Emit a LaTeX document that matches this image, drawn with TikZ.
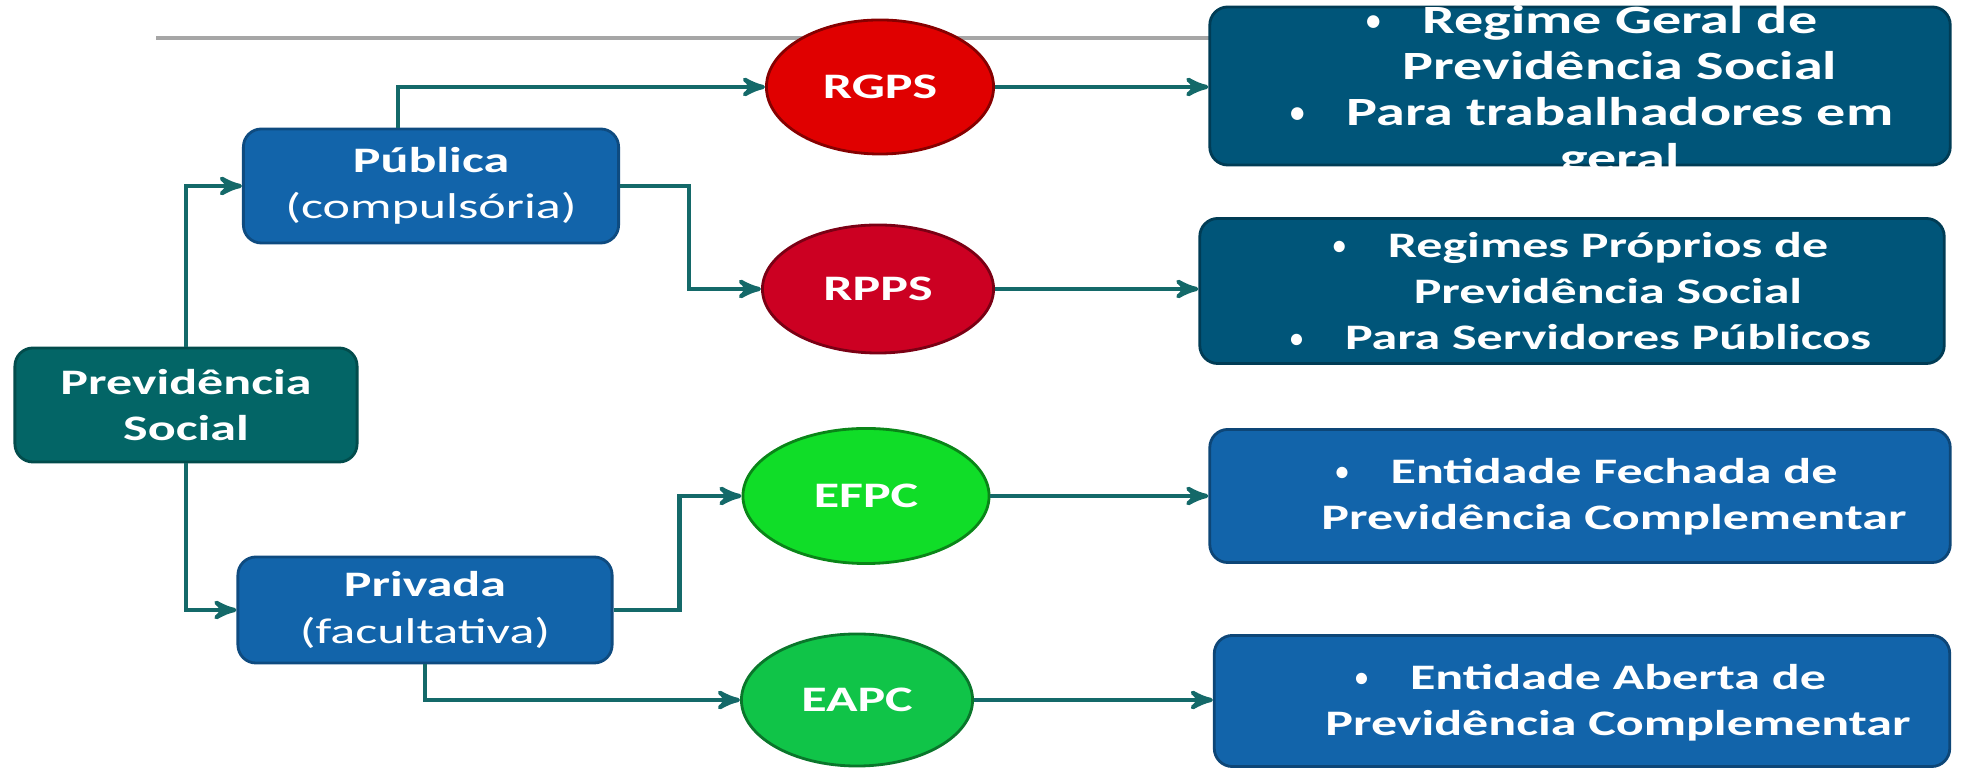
\documentclass[tikz,border=0pt]{standalone}
\usepackage{fontspec}
\setmainfont{Carlito}[FakeStretch=1.45]
\usepackage{xcolor}
\usetikzlibrary{arrows,positioning,shapes.geometric}

\definecolor{tealbox}{RGB}{3,101,102}
\definecolor{bluebox}{RGB}{18,100,170}
\definecolor{navybox}{RGB}{0,85,121}
\definecolor{linkteal}{RGB}{20,105,105}
\definecolor{rgpsred}{RGB}{224,0,0}
\definecolor{rppsred}{RGB}{204,0,34}
\definecolor{efpcgreen}{RGB}{16,221,40}
\definecolor{eapcgreen}{RGB}{16,196,72}

\newcommand{\itembul}{\llap{\raisebox{0.15ex}{\scalebox{0.5}[0.75]{\textbullet}}\hspace{0.42cm}}}

\begin{document}
\begin{tikzpicture}[x=0.01cm,y=-0.01cm,>=stealth',
      link/.style={->,draw=linkteal,line width=1.2pt},
      box/.style={rectangle,rounded corners=0.18cm,text=white,align=center,
                  line width=0.8pt,font=\fontsize{10.2}{13.2}\selectfont},
      oval/.style={ellipse,inner sep=0pt,text=white,line width=0.8pt,
                   font=\bfseries\fontsize{10.2}{13.2}\selectfont},
      info/.style={text=white,align=center,
                   font=\bfseries\fontsize{10.2}{13.2}\selectfont}]
    \useasboundingbox (0,0) rectangle (1961,768);
    \draw[gray!70,line width=0.9pt] (156,38) -- (1210,38);

    % left column
    \node[box,fill=tealbox,draw=tealbox!75!black,minimum width=3.42cm,minimum height=1.14cm,
          font=\bfseries\fontsize{10.2}{13.2}\selectfont]
          (prev) at (186,405) {Previdência\\Social};
    \node[box,fill=bluebox,draw=bluebox!75!black,minimum width=3.75cm,minimum height=1.14cm]
          (pub) at (431,186) {\textbf{Pública}\\(compulsória)};
    \node[box,fill=bluebox,draw=bluebox!75!black,minimum width=3.74cm,minimum height=1.06cm]
          (priv) at (425,610) {\textbf{Privada}\\(facultativa)};

    % regimes
    \node[oval,fill=rgpsred,draw=rgpsred!60!black,minimum width=2.27cm,minimum height=1.34cm] (rgps) at (880,87) {RGPS};
    \node[oval,fill=rppsred,draw=rppsred!60!black,minimum width=2.31cm,minimum height=1.28cm] (rpps) at (878,289) {RPPS};
    \node[oval,fill=efpcgreen,draw=efpcgreen!60!black,minimum width=2.46cm,minimum height=1.35cm] (efpc) at (866,496) {EFPC};
    \node[oval,fill=eapcgreen,draw=eapcgreen!60!black,minimum width=2.31cm,minimum height=1.32cm] (eapc) at (857,700) {EAPC};

    % descriptions
    \node[box,fill=navybox,draw=navybox!70!black,minimum width=7.40cm,minimum height=1.58cm] (rgpsbox) at (1580,86) {};
    \node[box,fill=navybox,draw=navybox!70!black,minimum width=7.44cm,minimum height=1.45cm] (rppsbox) at (1572,291) {};
    \node[box,fill=bluebox,draw=bluebox!70!black,minimum width=7.40cm,minimum height=1.33cm] (efpcbox) at (1580,496) {};
    \node[box,fill=bluebox,draw=bluebox!70!black,minimum width=7.35cm,minimum height=1.31cm] (eapcbox) at (1582,701) {};

    \begin{scope}
      \clip (1200,0) rectangle (1961,167);
      \node[info,font=\bfseries\fontsize{11.4}{13.1}\selectfont] (rgpstext) at (1620,92)
            {\itembul Regime Geral de\\Previdência Social\\\itembul Para trabalhadores em\\geral};
    \end{scope}
    \node[info] (rppstext) at (1608,291)
          {\itembul Regimes Próprios de\\Previdência Social\\\itembul Para Servidores Públicos};
    \node[info] (efpctext) at (1614,497)
          {\itembul Entidade Fechada de\\Previdência Complementar};
    \node[info] (eapctext) at (1618,703)
          {\itembul Entidade Aberta de\\Previdência Complementar};

    % connectors
    \draw[link] (prev.north) |- (pub.west);
    \draw[link] (prev.south) |- (priv.west);
    \draw[link] ([xshift=-0.33cm]pub.north) |- (rgps.west);
    \draw[link] (pub.east) -- ++(69,0) |- (rpps.west);
    \draw[link] (priv.east) -- ++(66,0) |- (efpc.west);
    \draw[link] (priv.south) |- (eapc.west);
    \draw[link] (rgps.east) -- (rgps.east -| rgpsbox.west);
    \draw[link] (rpps.east) -- (rpps.east -| rppsbox.west);
    \draw[link] (efpc.east) -- (efpc.east -| efpcbox.west);
    \draw[link] (eapc.east) -- (eapc.east -| eapcbox.west);
\end{tikzpicture}
\end{document}
